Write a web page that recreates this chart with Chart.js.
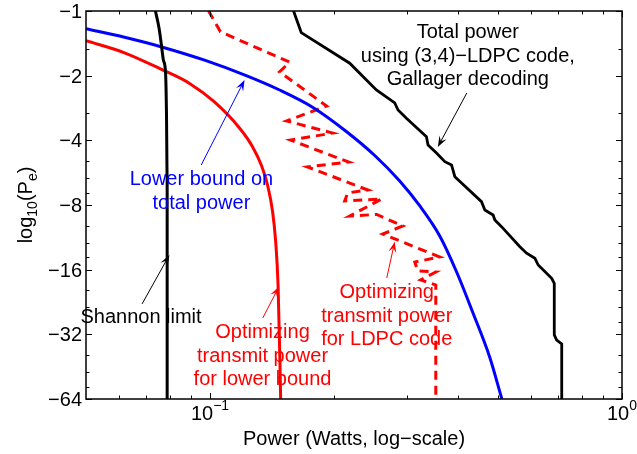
<!DOCTYPE html>
<html>
<head>
<meta charset="utf-8">
<script src="https://cdn.jsdelivr.net/npm/chart.js@4.4.1/dist/chart.umd.min.js"></script>
<style>
  html, body { margin: 0; padding: 0; background: #fff; }
  #wrap { width: 637px; height: 454px; }
</style>
</head>
<body>
<div id="wrap"><canvas id="pechart"></canvas></div>
<script>
// Power in Watts, log10(Pe) for each curve
var shannonPower = [0.0737, 0.0752, 0.0761, 0.0771, 0.0780, 0.0784, 0.0787, 0.0787];
var shannonLogPe = [-1, -1.2, -1.41, -1.7, -1.94, -3, -6, -64];

var boundPower = [0.05, 0.0620, 0.0767, 0.0970, 0.1220, 0.1475, 0.1774, 0.2146, 0.2511, 0.2887, 0.3231, 0.3611, 0.3973, 0.4344, 0.4777, 0.5110];
var boundLogPe = [-1.21, -1.326, -1.474, -1.694, -1.994, -2.332, -2.804, -3.647, -4.706, -6.185, -8.085, -11.15, -16.49, -25.32, -41.0, -64];

var boundTxPower = [0.05, 0.0620, 0.0767, 0.0892, 0.1025, 0.1179, 0.1269, 0.1334, 0.1379, 0.1418, 0.1443, 0.1463, 0.1479, 0.1484];
var boundTxLogPe = [-1.375, -1.565, -1.880, -2.173, -2.652, -3.505, -4.292, -5.256, -6.45, -8.53, -11.77, -19.06, -44.9, -64];

var ldpcTotalPower = [0.1595, 0.1665, 0.2183, 0.2534, 0.2808, 0.2860, 0.2997, 0.3352, 0.3382, 0.3546, 0.3715, 0.3857, 0.3929, 0.4560,
    0.4646, 0.4866, 0.4913, 0.5100, 0.5651, 0.5867, 0.6146, 0.6260, 0.6750, 0.6849, 0.6849, 0.6940, 0.7140, 0.7140];
var ldpcTotalLogPe = [-1, -1.26, -1.75, -2.33, -2.68, -2.89, -3.16, -3.85, -4.21, -4.58, -5.03, -5.21, -5.91, -7.72,
    -8.44, -8.90, -9.40, -10.09, -12.51, -13.42, -14.17, -15.22, -17.55, -18.52, -32.2, -34.0, -35.5, -64];

var ldpcTxPower = [0.0992, 0.1060, 0.1560, 0.1475, 0.1919, 0.1534, 0.1985, 0.1569, 0.2171, 0.1725, 0.2414, 0.2158, 0.2123,
    0.2611, 0.2183, 0.2538, 0.2936, 0.2626, 0.3611, 0.3141, 0.3194, 0.3532, 0.3247, 0.3532, 0.3532];
var ldpcTxLogPe = [-1, -1.25, -1.73, -1.92, -2.77, -3.25, -3.70, -3.99, -5.05, -5.32, -6.81, -7.03, -7.66,
    -7.50, -9.00, -8.85, -10.02, -10.92, -13.97, -14.74, -16.23, -16.40, -17.87, -18.86, -64];

// axis ticks
var xMajorTicks = [0.1, 1];
var xTickLabels = ['\u22121', '0'];
var xMinorTicks = [0.06, 0.07, 0.08, 0.09, 0.2, 0.3, 0.4, 0.5, 0.6, 0.7, 0.8, 0.9];
var yMajorTicks = [-1, -2, -4, -8, -16, -32, -64];
var yMinorTicks = [-1.5, -3, -5, -6, -7, -10, -12, -14, -20, -24, -28, -40, -48, -56];

// annotations: text anchor and arrow (tail -> head) in data units
var notes = [
    { lines: ['Total power', 'using (3,4)\u2212LDPC code,', 'Gallager decoding'], color: '#000000',
      at: [0.4224, -1.336], arrow: [0.4200, -2.408, 0.3572, -4.296] },
    { lines: ['Lower bound on', 'total power'], color: '#0000ff',
      at: [0.0953, -6.46], arrow: [0.0952, -5.21, 0.1213, -2.095] },
    { lines: ['Shannon limit'], color: '#000000',
      at: [0.0680, -28.3], arrow: [0.0684, -23.1, 0.0797, -13.67] },
    { lines: ['Optimizing', 'transmit power', 'for lower bound'], color: '#ff0000',
      at: [0.1341, -33.3], arrow: [0.1343, -26.86, 0.1470, -19.2] },
    { lines: ['Optimizing', 'transmit power', 'for LDPC code'], color: '#ff0000',
      at: [0.2685, -21.7], arrow: [0.2685, -17.5, 0.2808, -11.85] }
];

var FONT = "'Liberation Sans', Arial, Helvetica, sans-serif";

// y axis plots -log10(Pe) on a log scale
function toPoints(powers, logPe) {
    return powers.map(function (p, i) { return { x: p, y: -logPe[i] }; });
}

function drawArrow(ctx, x0, y0, x1, y1, color) {
    var ang = Math.atan2(y1 - y0, x1 - x0);
    var c = Math.cos(ang), s = Math.sin(ang);
    var len = 11, half = 4;
    ctx.strokeStyle = color;
    ctx.fillStyle = color;
    ctx.lineWidth = 1;
    ctx.beginPath();
    ctx.moveTo(x0, y0);
    ctx.lineTo(x1 - c * len * 0.6, y1 - s * len * 0.6);
    ctx.stroke();
    ctx.beginPath();
    ctx.moveTo(x1, y1);
    ctx.lineTo(x1 - c * len + s * half, y1 - s * len - c * half);
    ctx.lineTo(x1 - c * len * 0.6, y1 - s * len * 0.6);
    ctx.lineTo(x1 - c * len - s * half, y1 - s * len + c * half);
    ctx.closePath();
    ctx.fill();
}

// draws the MATLAB style box, inward ticks, labels and annotations
var axesPlugin = {
    id: 'matlabAxes',
    afterDatasetsDraw: function (chart) {
        var ctx = chart.ctx;
        var a = chart.chartArea;
        var xs = chart.scales.x, ys = chart.scales.y;
        ctx.save();

        // ticks
        ctx.strokeStyle = '#000';
        ctx.lineWidth = 1;
        function xTick(v, len) {
            var px = Math.round(xs.getPixelForValue(v)) + 0.5;
            ctx.beginPath();
            ctx.moveTo(px, a.bottom); ctx.lineTo(px, a.bottom - len);
            ctx.moveTo(px, a.top); ctx.lineTo(px, a.top + len);
            ctx.stroke();
        }
        function yTick(v, len) {
            var py = Math.round(ys.getPixelForValue(-v)) + 0.5;
            ctx.beginPath();
            ctx.moveTo(a.left, py); ctx.lineTo(a.left + len, py);
            ctx.moveTo(a.right, py); ctx.lineTo(a.right - len, py);
            ctx.stroke();
        }
        xMajorTicks.forEach(function (v) { xTick(v, 6); });
        xMinorTicks.forEach(function (v) { xTick(v, 3.5); });
        yMajorTicks.forEach(function (v) { yTick(v, 6); });
        yMinorTicks.forEach(function (v) { yTick(v, 3.5); });

        // box
        ctx.lineWidth = 1.5;
        ctx.strokeRect(a.left, a.top, a.right - a.left, a.bottom - a.top);

        ctx.fillStyle = '#000';
        // y tick labels
        ctx.font = '20px ' + FONT;
        ctx.textAlign = 'right';
        ctx.textBaseline = 'alphabetic';
        yMajorTicks.forEach(function (v) {
            var py = ys.getPixelForValue(-v);
            ctx.fillText('\u2212' + Math.abs(v), a.left - 4, py + 7);
        });

        // x tick labels, 10 with superscript
        ctx.textAlign = 'left';
        xMajorTicks.forEach(function (v, i) {
            var px = xs.getPixelForValue(v);
            ctx.font = '20px ' + FONT;
            var w1 = ctx.measureText('10').width;
            ctx.font = '14px ' + FONT;
            var w2 = ctx.measureText(xTickLabels[i]).width;
            var x0 = px - (w1 + w2) / 2;
            ctx.font = '20px ' + FONT;
            ctx.fillText('10', x0, a.bottom + 21);
            ctx.font = '14px ' + FONT;
            ctx.fillText(xTickLabels[i], x0 + w1, a.bottom + 11);
        });

        // x axis title
        ctx.font = '20px ' + FONT;
        ctx.textAlign = 'center';
        ctx.fillText('Power (Watts, log\u2212scale)', (a.left + a.right) / 2, a.bottom + 46);

        // y axis title: log10(Pe) with subscripts
        var parts = [['log', 20, 0], ['10', 14, 5], ['(P', 20, 0], ['e', 14, 5], [')', 20, 0]];
        var total = 0;
        parts.forEach(function (p) { ctx.font = p[1] + 'px ' + FONT; p.push(ctx.measureText(p[0]).width); total += p[3]; });
        ctx.save();
        ctx.translate(32, (a.top + a.bottom) / 2);
        ctx.rotate(-Math.PI / 2);
        ctx.textAlign = 'left';
        var cx = -total / 2;
        parts.forEach(function (p) {
            ctx.font = p[1] + 'px ' + FONT;
            ctx.fillText(p[0], cx, p[2]);
            cx += p[3];
        });
        ctx.restore();

        // annotations
        ctx.font = '20px ' + FONT;
        ctx.textAlign = 'center';
        notes.forEach(function (n) {
            var tx = xs.getPixelForValue(n.at[0]);
            var ty = ys.getPixelForValue(-n.at[1]);
            ctx.fillStyle = n.color;
            n.lines.forEach(function (line, k) {
                ctx.fillText(line, tx, ty + k * 23.5);
            });
            drawArrow(ctx,
                xs.getPixelForValue(n.arrow[0]), ys.getPixelForValue(-n.arrow[1]),
                xs.getPixelForValue(n.arrow[2]), ys.getPixelForValue(-n.arrow[3]), n.color);
        });

        ctx.restore();
    }
};

var ctx = document.getElementById('pechart').getContext('2d');

var pechart = new Chart(ctx, {
    type: 'scatter',
    data: {
        datasets: [
            {
                label: 'Shannon limit',
                data: toPoints(shannonPower, shannonLogPe),
                borderColor: '#000000',
                borderWidth: 3,
                cubicInterpolationMode: 'monotone',
            },
            {
                label: 'Lower bound on total power',
                data: toPoints(boundPower, boundLogPe),
                borderColor: '#0000ff',
                borderWidth: 3,
                cubicInterpolationMode: 'monotone',
            },
            {
                label: 'Optimizing transmit power for lower bound',
                data: toPoints(boundTxPower, boundTxLogPe),
                borderColor: '#ff0000',
                borderWidth: 3,
                cubicInterpolationMode: 'monotone',
            },
            {
                label: 'Optimizing transmit power for LDPC code',
                data: toPoints(ldpcTxPower, ldpcTxLogPe),
                borderColor: '#ff0000',
                borderWidth: 3,
                borderDash: [9, 6],
                tension: 0,
            },
            {
                label: 'Total power using (3,4)-LDPC code',
                data: toPoints(ldpcTotalPower, ldpcTotalLogPe),
                borderColor: '#000000',
                borderWidth: 2.8,
                tension: 0,
            },
        ],
    },
    options: {
        responsive: true,
        maintainAspectRatio: false,
        animation: false,
        showLine: true,
        elements: {
            point: { radius: 0, hoverRadius: 0 },
            line: { fill: false, borderJoinStyle: 'miter', borderCapStyle: 'butt' }
        },
        layout: {
            padding: { left: 86, top: 11, right: 15, bottom: 55 }
        },
        plugins: {
            legend: { display: false },
            tooltip: { enabled: false }
        },
        scales: {
            x: {
                type: 'logarithmic',
                min: 0.05,
                max: 1,
                display: false,
            },
            y: {
                type: 'logarithmic',
                min: 1,
                max: 64,
                reverse: true,
                display: false,
            },
        },
    },
    plugins: [axesPlugin],
});
</script>
</body>
</html>
